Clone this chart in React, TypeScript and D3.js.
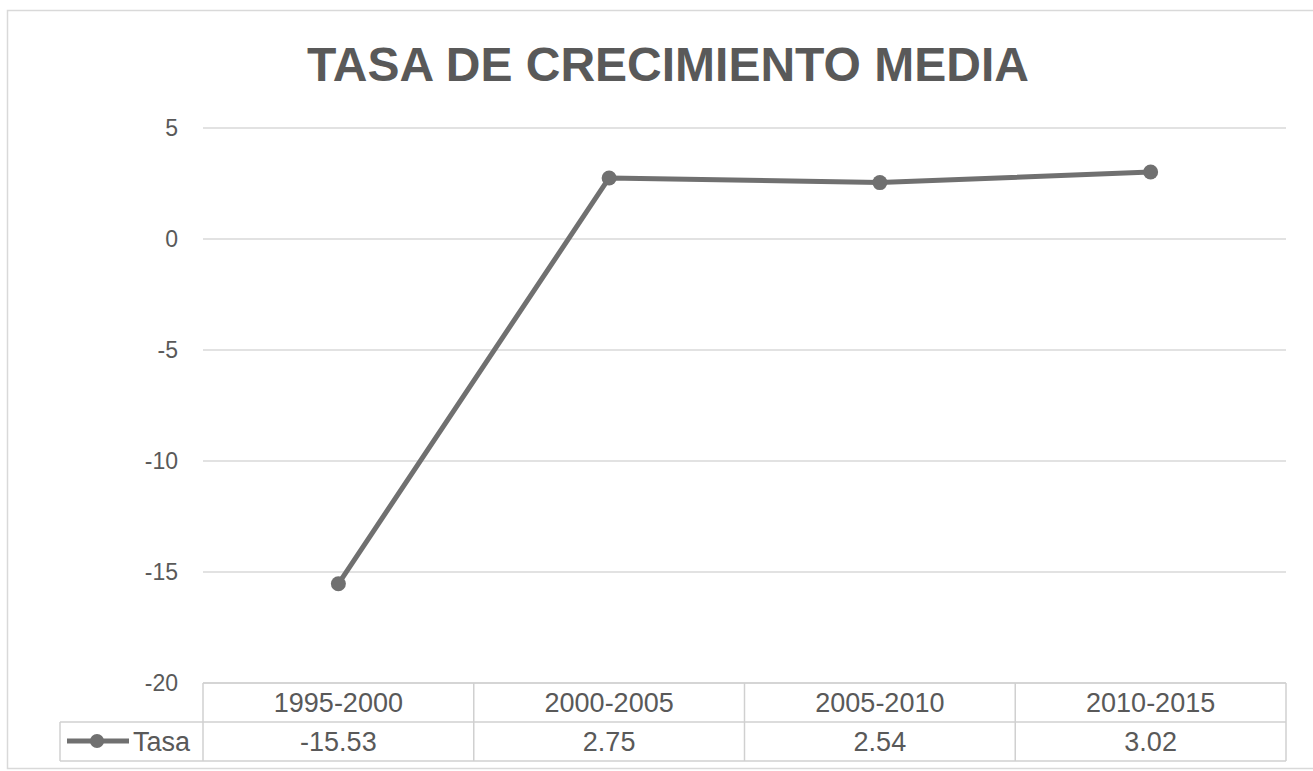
import React, { useEffect, useRef } from "react"
import * as d3 from "d3"

const periods = ["1995-2000", "2000-2005", "2005-2010", "2010-2015"]
const tasa = [-15.53, 2.75, 2.54, 3.02]
const tasaLabels = ["-15.53", "2.75", "2.54", "3.02"]
const yTicks = [5, 0, -5, -10, -15, -20]
const seriesName = "Tasa"
const title = "TASA DE CRECIMIENTO MEDIA"

const W = 1313
const H = 771
const FONT = "'Liberation Sans', Arial, sans-serif"

export default function App() {
  const ref = useRef<SVGSVGElement>(null)

  useEffect(() => {
    const svg = d3.select(ref.current)
    svg.selectAll("*").remove()

    const left = 203
    const right = 1286
    const top = 128
    const bottom = 683
    const rowH = 39

    const y = d3.scaleLinear().domain([-20, 5]).range([bottom, top])
    const x = d3.scaleBand().domain(periods).range([left, right])

    // outer frame
    svg.append("rect")
      .attr("x", 7.5).attr("y", 10.5)
      .attr("width", W + 20).attr("height", H - 13)
      .attr("fill", "#fff").attr("stroke", "#d9d9d9").attr("stroke-width", 1.5)

    svg.append("text")
      .attr("x", 668).attr("y", 81)
      .attr("text-anchor", "middle")
      .attr("font-family", FONT).attr("font-weight", "bold")
      .attr("font-size", 48).attr("fill", "#595959")
      .text(title)

    // gridlines
    svg.append("g")
      .selectAll("line")
      .data(yTicks)
      .enter()
      .append("line")
      .attr("x1", left).attr("x2", right)
      .attr("y1", d => y(d)).attr("y2", d => y(d))
      .attr("stroke", "#d9d9d9").attr("stroke-width", 1.5)

    svg.append("g")
      .selectAll("text")
      .data(yTicks)
      .enter()
      .append("text")
      .attr("x", 178).attr("y", d => y(d) + 8)
      .attr("text-anchor", "end")
      .attr("font-family", FONT).attr("font-size", 23)
      .attr("fill", "#595959")
      .text(d => String(d))

    // data table
    const tbl = svg.append("g").attr("stroke", "#d0d0d0").attr("stroke-width", 1.5)
    tbl.append("line").attr("x1", left).attr("x2", right).attr("y1", bottom).attr("y2", bottom)
    tbl.append("line").attr("x1", 60).attr("x2", right).attr("y1", bottom + rowH).attr("y2", bottom + rowH)
    tbl.append("line").attr("x1", 60).attr("x2", right).attr("y1", bottom + 2 * rowH).attr("y2", bottom + 2 * rowH)
    tbl.append("line").attr("x1", 60).attr("x2", 60).attr("y1", bottom + rowH).attr("y2", bottom + 2 * rowH)
    const cols = periods.map(p => x(p) as number).concat([right])
    tbl.selectAll("line.col")
      .data(cols)
      .enter()
      .append("line")
      .attr("class", "col")
      .attr("x1", d => d).attr("x2", d => d)
      .attr("y1", bottom).attr("y2", bottom + 2 * rowH)

    const cx = (p: string) => (x(p) as number) + x.bandwidth() / 2

    svg.append("g")
      .selectAll("text")
      .data(periods)
      .enter()
      .append("text")
      .attr("x", d => cx(d)).attr("y", bottom + 29)
      .attr("text-anchor", "middle")
      .attr("font-family", FONT).attr("font-size", 27)
      .attr("fill", "#595959")
      .text(d => d)

    svg.append("g")
      .selectAll("text")
      .data(tasaLabels)
      .enter()
      .append("text")
      .attr("x", (d, i) => cx(periods[i])).attr("y", bottom + rowH + 29)
      .attr("text-anchor", "middle")
      .attr("font-family", FONT).attr("font-size", 27)
      .attr("fill", "#595959")
      .text(d => d)

    // legend key in table
    const ly = bottom + rowH + 19
    svg.append("line")
      .attr("x1", 67).attr("x2", 129).attr("y1", ly).attr("y2", ly)
      .attr("stroke", "#707070").attr("stroke-width", 5)
    svg.append("circle").attr("cx", 97).attr("cy", ly).attr("r", 7).attr("fill", "#707070")
    svg.append("text")
      .attr("x", 133).attr("y", ly + 10)
      .attr("font-family", FONT).attr("font-size", 27)
      .attr("fill", "#595959")
      .text(seriesName)

    // series
    const line = d3.line<number>()
      .x((d, i) => cx(periods[i]))
      .y(d => y(d))
    svg.append("path")
      .datum(tasa)
      .attr("d", line)
      .attr("fill", "none")
      .attr("stroke", "#707070").attr("stroke-width", 5)
      .attr("stroke-linejoin", "round")

    svg.append("g")
      .selectAll("circle")
      .data(tasa)
      .enter()
      .append("circle")
      .attr("cx", (d, i) => cx(periods[i]))
      .attr("cy", d => y(d))
      .attr("r", 7.5)
      .attr("fill", "#707070")
  }, [])

  return (
    <svg
      ref={ref}
      width={W}
      height={H}
      style={{ position: "absolute", left: 0, top: 0, background: "#fff" }}
    />
  )
}
